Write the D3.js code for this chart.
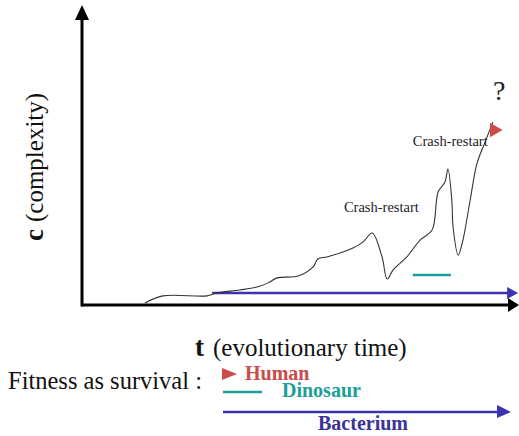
<!DOCTYPE html>
<html>
<head>
<meta charset="utf-8">
<script src="https://cdn.jsdelivr.net/npm/d3@7"></script>
<style>
  body { margin: 0; background: #fff; }
</style>
</head>
<body>
<svg id="chart" width="519" height="436" font-family="'Liberation Serif', 'Times New Roman', serif"></svg>
<script>
// complexity curve (t = evolutionary time, c = complexity), both 0..100
var curveT = [14.7, 18.9, 29.2, 31.5, 36.9, 40.9, 43.5, 45.6, 50.5, 54.0, 55.1, 57.2, 61.0, 63.3, 65.7, 67.8,
              70.1, 71.3, 72.7, 75.9, 79.0, 81.8, 83.2, 84.8, 85.5, 86.4, 86.7, 87.9, 89.0, 90.7, 92.3, 94.2, 96.0];
var curveC = [0.7, 3.1, 3.1, 4.1, 5.1, 6.1, 7.5, 9.2, 9.8, 12.9, 15.6, 16.3, 18.0, 19.3, 21.4, 24.4,
              16.3, 8.8, 11.9, 16.3, 22.0, 25.4, 38.3, 41.7, 46.1, 35.6, 26.4, 16.9, 22.0, 35.6, 48.1, 55.3, 62.0];

// survival spans
var species = ["Human", "Dinosaur", "Bacterium"];
var speciesColor = ["#cc4a4a", "#1c9f98", "#3c33b0"];
var humanAt = [96.3, 59.3];          // t, c
var dinoSpan = [77.3, 86.2, 10.2];   // t0, t1, c
var bactSpan = [30.4, 101.9, 4.1];   // t0, t1, c

var crashLabels = ["Crash-restart", "Crash-restart"];
var crashT = [61.2, 77.3];
var crashC = [31.5, 53.9];

var svg = d3.select("svg");

var x = d3.scaleLinear().domain([0, 100]).range([82, 510]),
    y = d3.scaleLinear().domain([0, 100]).range([305, 10]);

// axes
svg.append("line").attr("x1", x(0)).attr("x2", 512).attr("y1", y(0)).attr("y2", y(0))
  .attr("stroke", "#000").attr("stroke-width", 3);
svg.append("path").attr("d", "M508,298 L519,305 L508,312 Z").attr("fill", "#000");
svg.append("line").attr("x1", x(0)).attr("x2", x(0)).attr("y1", y(0) + 1.5).attr("y2", 14)
  .attr("stroke", "#000").attr("stroke-width", 3);
svg.append("path").attr("d", "M75,20 L82,5 L89,20 Z").attr("fill", "#000");

// bacterium span in chart
svg.append("line")
  .attr("x1", x(bactSpan[0])).attr("x2", x(bactSpan[1]) - 8)
  .attr("y1", y(bactSpan[2])).attr("y2", y(bactSpan[2]))
  .attr("stroke", speciesColor[2]).attr("stroke-width", 2.5);
svg.append("path")
  .attr("d", "M" + (x(bactSpan[1]) - 11) + "," + (y(bactSpan[2]) - 6) + " L" + x(bactSpan[1]) + "," + y(bactSpan[2]) +
             " L" + (x(bactSpan[1]) - 11) + "," + (y(bactSpan[2]) + 6) + " Z")
  .attr("fill", speciesColor[2]);

// complexity curve
var line = d3.line()
  .curve(d3.curveCatmullRom.alpha(0.5))
  .x(function(d, i) { return x(curveT[i]); })
  .y(function(d) { return y(d); });
svg.append("path").datum(curveC)
  .attr("d", line)
  .attr("fill", "none")
  .attr("stroke", "#333")
  .attr("stroke-width", 1.1)
  .attr("stroke-linejoin", "round");

// dinosaur span
svg.append("line")
  .attr("x1", x(dinoSpan[0])).attr("x2", x(dinoSpan[1]))
  .attr("y1", y(dinoSpan[2])).attr("y2", y(dinoSpan[2]))
  .attr("stroke", speciesColor[1]).attr("stroke-width", 2.5);

// human marker
svg.append("path")
  .attr("d", d3.symbol().type(d3.symbolTriangle).size(90))
  .attr("transform", "translate(" + x(humanAt[0]) + "," + y(humanAt[1]) + ") rotate(90)")
  .attr("fill", speciesColor[0]);

// labels on the chart
svg.selectAll(".crash").data(crashLabels).enter().append("text")
  .attr("class", "crash")
  .attr("x", function(d, i) { return x(crashT[i]); })
  .attr("y", function(d, i) { return y(crashC[i]); })
  .attr("font-size", 14.5)
  .attr("fill", "#222")
  .text(function(d) { return d; });

svg.append("text").attr("x", 493).attr("y", 100).attr("font-size", 28).attr("fill", "#222").text("?");

// axis titles
var xt = svg.append("text").attr("x", 195).attr("y", 356).attr("font-size", 25).attr("fill", "#111");
xt.append("tspan").attr("font-weight", "bold").attr("font-size", 27).text("t");
xt.append("tspan").attr("dx", 9).text("(evolutionary time)");

var yt = svg.append("text").attr("transform", "translate(43,241) rotate(-90)").attr("font-size", 25).attr("fill", "#111");
yt.append("tspan").attr("font-weight", "bold").attr("font-size", 27).text("c");
yt.append("tspan").attr("dx", 7).text("(complexity)");

// legend
svg.append("text").attr("x", 8).attr("y", 389).attr("font-size", 24.5).attr("fill", "#111").text("Fitness as survival :");

svg.append("path").attr("d", "M222,368 L237,374 L222,380 Z").attr("fill", speciesColor[0]);
svg.append("line").attr("x1", 223).attr("x2", 262).attr("y1", 392).attr("y2", 392)
  .attr("stroke", speciesColor[1]).attr("stroke-width", 2.5);
svg.append("line").attr("x1", 223).attr("x2", 500).attr("y1", 412).attr("y2", 412)
  .attr("stroke", speciesColor[2]).attr("stroke-width", 2.5);
svg.append("path").attr("d", "M497,405 L511,412 L497,418 Z").attr("fill", speciesColor[2]);

var legX = [245, 282, 318], legY = [380, 397, 430];
svg.selectAll(".leg").data(species).enter().append("text")
  .attr("class", "leg")
  .attr("x", function(d, i) { return legX[i]; })
  .attr("y", function(d, i) { return legY[i]; })
  .attr("font-size", 20)
  .attr("font-weight", "bold")
  .attr("fill", function(d, i) { return i === 2 ? "#3a3399" : speciesColor[i]; })
  .text(function(d) { return d; });
</script>
</body>
</html>
